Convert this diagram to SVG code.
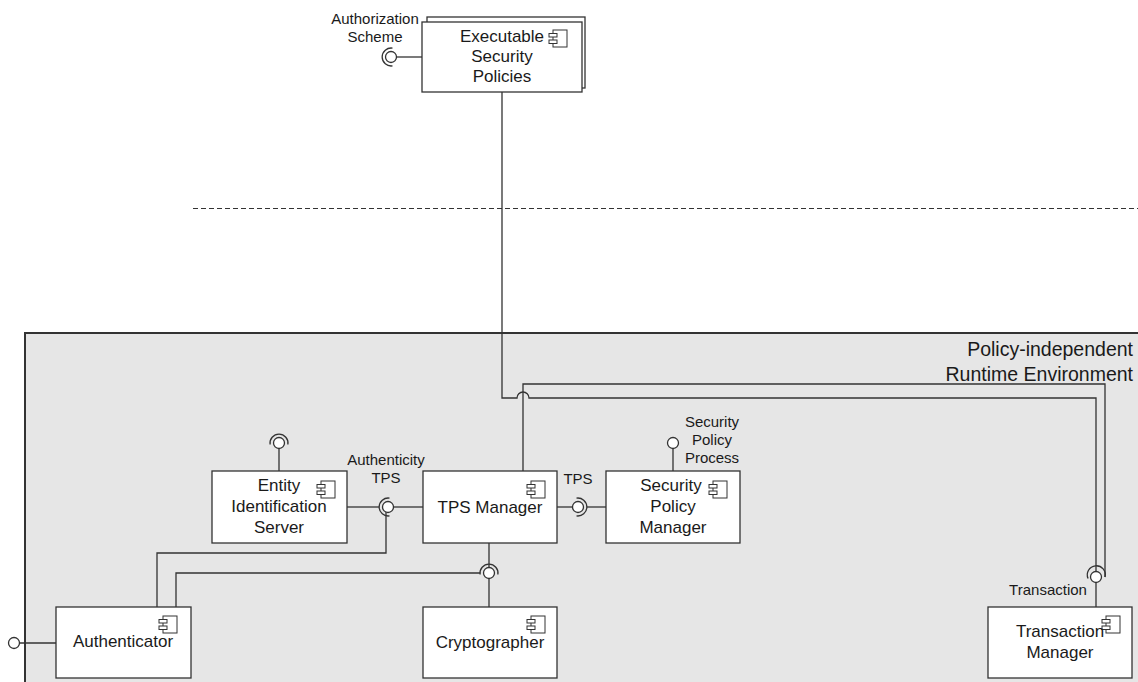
<svg xmlns="http://www.w3.org/2000/svg" width="1138" height="682" viewBox="0 0 1138 682">
<defs>
<style>
.box{fill:#fff;stroke:#333;stroke-width:1.3}
.ln{fill:none;stroke:#333;stroke-width:1.3}
.ball{fill:#fff;stroke:#333;stroke-width:1.3}
.t{font-family:"Liberation Sans",Arial,sans-serif;font-size:17px;fill:#1a1a1a;text-anchor:middle}
.s{font-family:"Liberation Sans",Arial,sans-serif;font-size:15px;fill:#1a1a1a;text-anchor:middle}
.e{font-family:"Liberation Sans",Arial,sans-serif;font-size:19.5px;fill:#1a1a1a;text-anchor:end}
</style>
<g id="cicon">
<rect x="4" y="0" width="14" height="17" fill="#fff" stroke="#333" stroke-width="1"/>
<rect x="0" y="3.5" width="8" height="3.5" fill="#fff" stroke="#333" stroke-width="1"/>
<rect x="0" y="10" width="8" height="3.5" fill="#fff" stroke="#333" stroke-width="1"/>
</g>
</defs>
<rect width="1138" height="682" fill="#fff"/>
<line x1="193" y1="208.5" x2="1138" y2="208.5" stroke="#333" stroke-width="1" stroke-dasharray="5 3"/>
<g id="environment">
<rect x="25" y="333" width="1125" height="360" fill="#e6e6e6" stroke="#333" stroke-width="2"/>
<text class="e" x="1133" y="356">Policy-independent</text>
<text class="e" x="1133" y="381">Runtime Environment</text>
</g>
<g id="connectors">
<path class="ln" d="M502 92 V398 H517 A6 6 0 0 1 529 398 H1096 V571.5"/>
<path class="ln" d="M523 471 V384 H1105 V577"/>
<path class="ln" d="M1088.1 578.5 A9 9 0 1 1 1105 577"/>
<circle class="ball" cx="1096" cy="577" r="5.5"/>
<line class="ln" x1="1096" y1="582.5" x2="1096" y2="607"/>
<line class="ln" x1="396.5" y1="57" x2="422" y2="57"/>
<path class="ln" d="M392.5 48.1 A9 9 0 1 0 392.5 65.9"/>
<circle class="ball" cx="391" cy="57" r="5.5"/>
<line class="ln" x1="279" y1="448.5" x2="279" y2="471"/>
<path class="ln" d="M270.1 444.5 A9 9 0 1 1 287.9 444.5"/>
<circle class="ball" cx="279" cy="443" r="5.5"/>
<line class="ln" x1="673" y1="448.5" x2="673" y2="471"/>
<circle class="ball" cx="673" cy="443" r="5.5"/>
<line class="ln" x1="347" y1="507" x2="379" y2="507"/>
<line class="ln" x1="393.5" y1="507" x2="423" y2="507"/>
<path class="ln" d="M386 512 V553 H157 V607"/>
<path class="ln" d="M389.5 498.1 A9 9 0 1 0 389.5 515.9"/>
<circle class="ball" cx="388" cy="507" r="5.5"/>
<line class="ln" x1="557" y1="507" x2="572.5" y2="507"/>
<line class="ln" x1="587" y1="507" x2="606" y2="507"/>
<path class="ln" d="M576.5 498.1 A9 9 0 1 1 576.5 515.9"/>
<circle class="ball" cx="578" cy="507" r="5.5"/>
<line class="ln" x1="489" y1="543" x2="489" y2="567"/>
<line class="ln" x1="489" y1="579" x2="489" y2="607"/>
<path class="ln" d="M176 607 V573 H480"/>
<path class="ln" d="M480.1 574.5 A9 9 0 1 1 497.9 574.5"/>
<circle class="ball" cx="489" cy="573" r="5.5"/>
<line class="ln" x1="19.5" y1="643" x2="56" y2="643"/>
<circle class="ball" cx="14" cy="643" r="5.5"/>
</g>
<g id="labels">
<text class="s" x="375" y="24">Authorization</text>
<text class="s" x="375" y="42">Scheme</text>
<text class="s" x="386" y="465">Authenticity</text>
<text class="s" x="386" y="483">TPS</text>
<text class="s" x="578" y="484">TPS</text>
<text class="s" x="712" y="427">Security</text>
<text class="s" x="712" y="445">Policy</text>
<text class="s" x="712" y="463">Process</text>
<text class="s" x="1048" y="595">Transaction</text>
</g>
<g id="executable-security-policies">
<rect class="box" x="427" y="17" width="158" height="71"/>
<rect class="box" x="422" y="22" width="160" height="70"/>
<use href="#cicon" x="549" y="30"/>
<text class="t" x="502" y="42">Executable</text>
<text class="t" x="502" y="62">Security</text>
<text class="t" x="502" y="82">Policies</text>
</g>
<g id="entity-identification-server">
<rect class="box" x="212" y="471" width="135" height="72"/>
<use href="#cicon" x="317" y="481"/>
<text class="t" x="279" y="491">Entity</text>
<text class="t" x="279" y="512">Identification</text>
<text class="t" x="279" y="533">Server</text>
</g>
<g id="tps-manager">
<rect class="box" x="423" y="471" width="134" height="72"/>
<use href="#cicon" x="527" y="481"/>
<text class="t" x="490" y="513">TPS Manager</text>
</g>
<g id="security-policy-manager">
<rect class="box" x="606" y="471" width="134" height="72"/>
<use href="#cicon" x="709" y="481"/>
<text class="t" x="671" y="491">Security</text>
<text class="t" x="673" y="512">Policy</text>
<text class="t" x="673" y="533">Manager</text>
</g>
<g id="authenticator">
<rect class="box" x="56" y="607" width="135" height="71"/>
<use href="#cicon" x="159" y="616"/>
<text class="t" x="123" y="647">Authenticator</text>
</g>
<g id="cryptographer">
<rect class="box" x="423" y="607" width="134" height="71"/>
<use href="#cicon" x="527" y="616"/>
<text class="t" x="490" y="648">Cryptographer</text>
</g>
<g id="transaction-manager">
<rect class="box" x="988" y="607" width="144" height="71"/>
<use href="#cicon" x="1102" y="616"/>
<text class="t" x="1060" y="637">Transaction</text>
<text class="t" x="1060" y="658">Manager</text>
</g>
</svg>
